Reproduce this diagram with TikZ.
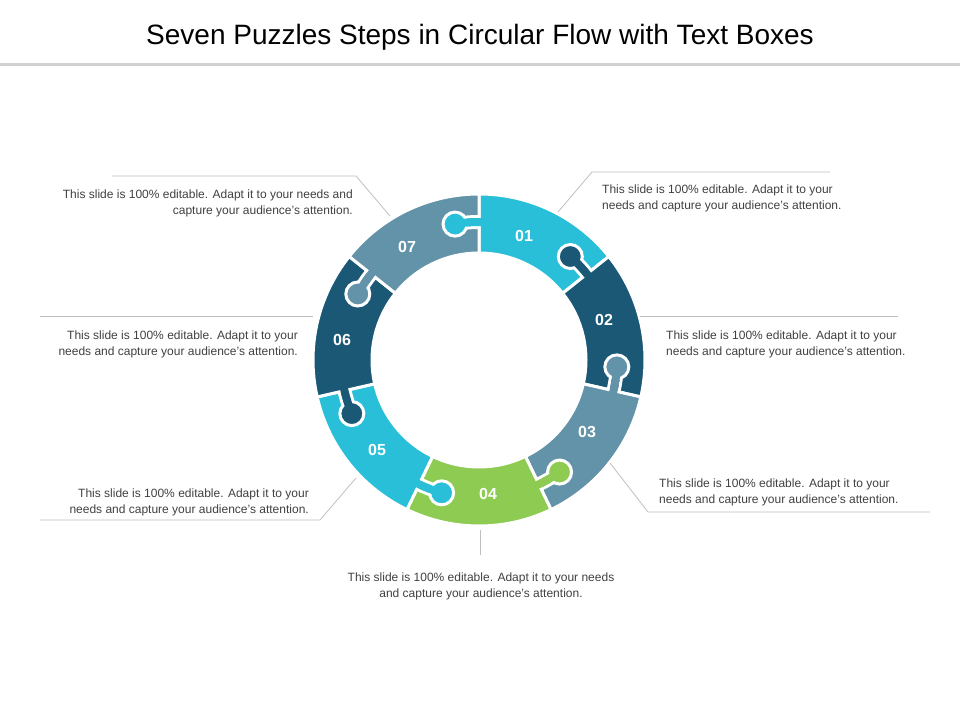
\documentclass[tikz,border=0pt]{standalone}
\usepackage{fontspec}
\setmainfont{Liberation Sans}
\definecolor{cA}{HTML}{29BFD9}
\definecolor{cB}{HTML}{1B5876}
\definecolor{cC}{HTML}{6393A8}
\definecolor{cD}{HTML}{8DCB52}
\definecolor{txt}{HTML}{404040}
\definecolor{lead}{HTML}{BFBFBF}
\tikzset{
  desc/.style={text=txt,font=\fontsize{12}{16}\selectfont,inner sep=0pt},
  num/.style={text=white,font=\fontsize{16}{18}\selectfont\bfseries},
  leader/.style={draw=lead,line width=0.8pt},
}
\begin{document}
\begin{tikzpicture}[x=1pt,y=1pt]
\useasboundingbox (0,0) rectangle (960,720);
\node (title) at (480,683) {\fontsize{28}{32}\selectfont Seven Puzzles Steps in Circular Flow with Text Boxes};
\draw[draw=black!18,line width=3pt] (0,655) -- (960,655);
\begin{scope}[shift={(479,360)}]
\foreach \k/\c in {1/cA,2/cB,3/cC,4/cD,5/cA,6/cB,7/cC}{
  \pgfmathsetmacro{\b}{90-(\k-1)*360/7}
  \pgfmathsetmacro{\e}{\b-360/7}
  \fill[\c,draw=white,line width=3pt] (\b:166) arc[start angle=\b,end angle=\e,radius=166] -- (\e:107) arc[start angle=\e,end angle=\b,radius=107] -- cycle;
}
\foreach \k/\c in {1/cA,2/cB,3/cC,4/cD,5/cA,6/cB,7/cC}{
  \pgfmathsetmacro{\b}{90-(\k-1)*360/7}
  \pgfmathsetmacro{\kc}{\b+10}
  \pgfmathsetmacro{\ks}{\b+5.5}
  \pgfmathsetmacro{\bs}{\b-2}
  \fill[\c,draw=white,line width=3pt] (\kc:138) circle[radius=12];
  \draw[white,line width=3pt] (\b:132.5) arc[start angle=\b,end angle=\ks,radius=132.5];
  \draw[white,line width=3pt] (\b:143.5) arc[start angle=\b,end angle=\ks,radius=143.5];
  \fill[\c] (\bs:134) arc[start angle=\bs,end angle=\kc,radius=134] -- (\kc:142) arc[start angle=\kc,end angle=\bs,radius=142] -- cycle;
}
\end{scope}
\node[num] (n1) at (524,484) {01};
\node[num] (n2) at (604,400) {02};
\node[num] (n3) at (587,288) {03};
\node[num] (n4) at (488,226) {04};
\node[num] (n5) at (377,270) {05};
\node[num] (n6) at (342,380) {06};
\node[num] (n7) at (407,473) {07};
% leaders
\coordinate (l7a) at (112,544); \coordinate (l7b) at (356,544); \coordinate (l7c) at (390,504);
\draw[leader] (l7a) -- (l7b) -- (l7c);
\coordinate (l1a) at (830,548); \coordinate (l1b) at (592,548); \coordinate (l1c) at (558,508);
\draw[leader] (l1a) -- (l1b) -- (l1c);
\coordinate (l6a) at (40,404); \coordinate (l6b) at (313,404);
\draw[leader] (l6a) -- (l6b);
\coordinate (l2a) at (640,404); \coordinate (l2b) at (898,404);
\draw[leader] (l2a) -- (l2b);
\coordinate (l3a) at (930,208); \coordinate (l3b) at (648,208); \coordinate (l3c) at (610,257);
\draw[leader] (l3a) -- (l3b) -- (l3c);
\coordinate (l5a) at (40,200); \coordinate (l5b) at (320,200); \coordinate (l5c) at (356,242);
\draw[leader] (l5a) -- (l5b) -- (l5c);
\coordinate (l4a) at (480,190); \coordinate (l4b) at (480,165);
\draw[leader] (l4a) -- (l4b);
% texts
\node[desc,anchor=east,align=right] (t7) at (353,517) {This slide is 100\% editable. Adapt it to your needs and\\capture your audience's attention.};
\node[desc,anchor=west,align=left] (t1) at (602,522) {This slide is 100\% editable. Adapt it to your\\needs and capture your audience's attention.};
\node[desc,anchor=east,align=right] (t6) at (298,376) {This slide is 100\% editable. Adapt it to your\\needs and capture your audience's attention.};
\node[desc,anchor=west,align=left] (t2) at (666,376) {This slide is 100\% editable. Adapt it to your\\needs and capture your audience's attention.};
\node[desc,anchor=west,align=left] (t3) at (659,228) {This slide is 100\% editable. Adapt it to your\\needs and capture your audience's attention.};
\node[desc,anchor=east,align=right] (t5) at (309,218) {This slide is 100\% editable. Adapt it to your\\needs and capture your audience's attention.};
\node[desc,align=center] (t4) at (481,134) {This slide is 100\% editable. Adapt it to your needs\\and capture your audience's attention.};
\end{tikzpicture}
\end{document}
